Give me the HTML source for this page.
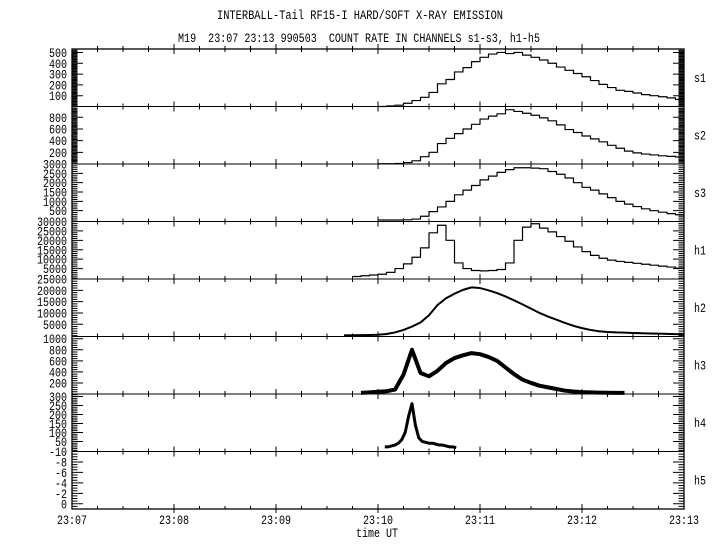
<!DOCTYPE html>
<html><head><meta charset="utf-8"><style>
html,body{margin:0;padding:0;background:#fff;}
svg{display:block;}
text{font-family:"Liberation Mono","DejaVu Sans Mono",monospace;font-size:13px;fill:#000;}
</style></head><body>
<svg id="chart" width="720" height="550" viewBox="0 0 720 550" xmlns="http://www.w3.org/2000/svg">
<defs><clipPath id="plotclip"><rect x="72" y="49" width="612" height="460"/></clipPath></defs>
<rect x="0" y="0" width="720" height="550" fill="#fff"/>
<text x="360" y="19" text-anchor="middle" textLength="286" lengthAdjust="spacingAndGlyphs">INTERBALL-Tail RF15-I HARD/SOFT X-RAY EMISSION</text>
<text x="178" y="42" xml:space="preserve" textLength="362" lengthAdjust="spacingAndGlyphs">M19  23:07 23:13 990503  COUNT RATE IN CHANNELS s1-s3, h1-h5</text>
<text x="377" y="537" text-anchor="middle" textLength="42" lengthAdjust="spacingAndGlyphs">time UT</text>
<g id="plots"></g>
</svg>
<script>
// time axis: seconds since 23:07
const xTickLabels = ["23:07","23:08","23:09","23:10","23:11","23:12","23:13"];
const channelNames = ["s1","s2","s3","h1","h2","h3","h4","h5"];

// step-histogram channels (start second, step seconds, values)
const s1Start = 180, s1Step = 5;
const s1Values = [0,5,12,30,55,85,130,210,250,320,360,415,455,485,500,490,500,475,455,430,400,365,335,305,275,240,205,175,150,140,125,110,100,90,80,65,50];
const s2Start = 180, s2Step = 5;
const s2Values = [5,5,10,25,55,125,200,350,440,520,600,680,770,820,860,930,900,870,835,790,740,670,590,540,480,430,380,320,270,220,190,170,155,140,130,120,110];
const s3Start = 180, s3Step = 5;
const s3Values = [0,0,0,10,50,200,450,700,1000,1350,1600,1850,2150,2350,2550,2700,2800,2800,2780,2750,2600,2450,2250,2000,1750,1600,1400,1200,1000,850,720,600,500,420,340,280,230];
const h1Start = 165, h1Step = 5;
const h1Values = [800,1200,1600,2000,3000,5000,7500,11000,16000,24000,28000,20000,8000,5000,4000,3800,4000,4500,8000,20000,27000,28800,26500,24500,22000,19500,16500,14000,12000,10500,9500,8800,8300,7800,7300,6800,6300,5800,5200,4900];

// line channels
const h2Start = 160, h2Step = 5;
const h2Values = [100,150,200,250,350,700,1400,2500,4000,5800,9000,13500,16500,18500,20200,21300,21000,20000,18800,17300,15600,13800,11900,10000,8400,7000,5600,4300,3300,2500,1900,1600,1400,1300,1150,1050,950,850,750,650,600];
const h3Start = 170, h3Step = 5;
const h3Values = [20,30,40,50,80,350,800,380,320,420,560,650,700,740,720,670,600,480,360,260,200,150,120,90,60,45,35,30,25,22,20,20];
const h4Start = 184, h4Step = 2;
const h4Values = [20,20,25,30,40,60,100,190,260,140,70,50,45,40,40,35,30,30,25,20,20,15];

// y-axis tick values and labels per panel
const s1Ticks = [100,200,300,400,500];
const s2Ticks = [200,400,600,800];
const s3Ticks = [500,1000,1500,2000,2500,3000];
const h1Ticks = [5000,10000,15000,20000,25000,30000];
const h2Ticks = [5000,10000,15000,20000,25000];
const h3Ticks = [200,400,600,800,1000];
const h4Ticks = [50,100,150,200,250,300];
const h5Ticks = [0,2,4,6,8,10];
const h5TickLabels = ["0","-2","-4","-6","-8","-10"];

const NS = "http://www.w3.org/2000/svg";
const root = document.getElementById("plots");
const L = 72, R = 684, TOP = 49, PH = 57.5;
function xs(t){ return L + t * (R - L) / 360; }
function mk(tag, attrs){ const e = document.createElementNS(NS, tag); for (const k in attrs) e.setAttribute(k, attrs[k]); return e; }

const panels = [
  {dom:[0,532], ticks:s1Ticks, minor:10},
  {dom:[0,985], ticks:s2Ticks, minor:20},
  {dom:[-80,3000], ticks:s3Ticks, minor:100},
  {dom:[-530,30000], ticks:h1Ticks, minor:1000},
  {dom:[-400,25000], ticks:h2Ticks, minor:1000},
  {dom:[0,1040], ticks:h3Ticks, minor:40},
  {dom:[-6,314], ticks:h4Ticks, minor:10},
  {dom:[-1,10], ticks:h5Ticks, minor:0.5, labels:h5TickLabels}
];
function ys(i, v){ const p = panels[i]; const top = TOP + i*PH, bot = top + PH; return bot - (v - p.dom[0]) / (p.dom[1] - p.dom[0]) * PH; }

const frame = mk("rect", {x:L, y:TOP, width:R-L, height:PH*8, fill:"none", stroke:"#000", "stroke-width":1.3});


root.appendChild(frame);

let tickPath = "";
for (let i = 0; i < 8; i++) {
  const p = panels[i];
  const top = TOP + i*PH, bot = top + PH;
  if (i > 0) tickPath += `M${L} ${top}H${R}`;
  for (let q = 1; q < 24; q++) {
    const x = xs(q*15), major = q % 4 === 0;
    const d = major ? 5 : 3;
    tickPath += `M${x} ${top-d}V${top+d}`;
  }
  for (let v = Math.ceil(p.dom[0]/p.minor)*p.minor; v <= p.dom[1]; v += p.minor) {
    const y = ys(i, v);
    if (y < top + 0.3 || y > bot - 0.3) continue;
    tickPath += `M${L} ${y}h5.5M${R} ${y}h-5.5`;
  }
  p.ticks.forEach((v, k) => {
    const y = ys(i, v);
    tickPath += `M${L} ${y}h11M${R} ${y}h-11`;
    const lab = p.labels ? p.labels[k] : String(v);
    const t = mk("text", {x:67, y:y+4.5, "text-anchor":"end", textLength:lab.length*6, lengthAdjust:"spacingAndGlyphs"});
    t.textContent = lab;
    
    
    root.appendChild(t);
  });
  const nm = mk("text", {x:694, y:top+PH/2+4, textLength:12, lengthAdjust:"spacingAndGlyphs"});
  nm.textContent = channelNames[i];
  
  
  root.appendChild(nm);
}
const bottom = TOP + 8*PH;
for (let q = 1; q < 24; q++) { const x = xs(q*15); tickPath += `M${x} ${bottom - (q%4===0?5:3)}V${bottom + (q%4===0?4:0)}`; }
const ticks = mk("path", {d:tickPath, stroke:"#000", "stroke-width":1, fill:"none"});


root.appendChild(ticks);

xTickLabels.forEach((lab, k) => {
  const t = mk("text", {x:xs(k*60), y:524, "text-anchor":"middle", textLength:30, lengthAdjust:"spacingAndGlyphs"});
  t.textContent = lab;
  
  
  root.appendChild(t);
});

function stepPath(i, start, step, vals){
  let d = `M${xs(start)} ${ys(i, vals[0])}`;
  vals.forEach((v, k) => { if (k > 0) d += `V${ys(i, v)}`; d += `H${xs(Math.min(360, start + (k+1)*step))}`; });
  return d;
}
function linePath(i, start, step, vals){
  return vals.map((v, k) => (k ? "L" : "M") + xs(start + k*step) + " " + ys(i, v)).join("");
}
const series = [
  {d:stepPath(0, s1Start, s1Step, s1Values), w:1.2, n:"s1"},
  {d:stepPath(1, s2Start, s2Step, s2Values), w:1.2, n:"s2"},
  {d:stepPath(2, s3Start, s3Step, s3Values), w:1.2, n:"s3"},
  {d:stepPath(3, h1Start, h1Step, h1Values), w:1.2, n:"h1"},
  {d:linePath(4, h2Start, h2Step, h2Values), w:2, n:"h2"},
  {d:linePath(5, h3Start, h3Step, h3Values), w:4, n:"h3"},
  {d:linePath(6, h4Start, h4Step, h4Values), w:3, n:"h4"}
];
series.forEach(s => {
  const p = mk("path", {d:s.d, stroke:"#000", "stroke-width":s.w, fill:"none", "stroke-linejoin":"round", "clip-path":"url(#plotclip)"});
  
  
  root.appendChild(p);
});
</script>
</body></html>
